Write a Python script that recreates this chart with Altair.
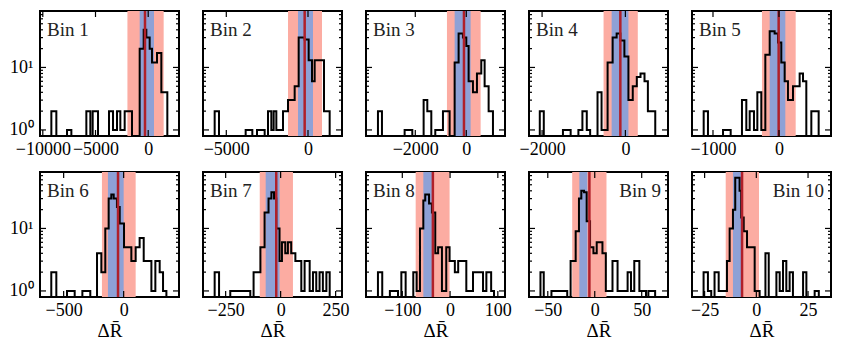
import altair as alt
import pandas as pd

# ---------------- data ----------------
bin_names = [f"Bin {i}" for i in range(1, 11)]

xlims = [(-10266, 2922), (-6426, 2081), (-3933, 1518), (-2314, 1023), (-1318, 788),
         (-697, 461), (-353, 279), (-176, 115), (-70, 78), (-31.1, 36.1)]
xticks = [[-10000, -5000, 0], [-5000, 0], [-2000, 0], [-2000, 0], [-1000, 0],
          [-500, 0], [-250, 0, 250], [-100, 0, 100], [-50, 0, 50], [-25, 0, 25]]

red_lo = [-1971, -1224, -758, -524, -258, -181, -95, -72, -24, -14.8]
red_hi = [1467, 857, 562, 298, 253, 100, 56, -1, 12.5, 1.3]
blue_lo = [-809, -612, -457, -330, -141, -131, -68, -56, -16.4, -11.3]
blue_hi = [550, 306, 170, 73, 96, 0, -5, -38, -7.9, -7.3]
median = [-304, -204, -91, -121, -5, -47, -20, -36, -5.7, -6.9]

edges = [
    [-9189, -8715, -7702, -7291, -5869, -5490, -5268, -4762, -3719, -3339, -2960, -2644,
     -2232, -1537, -809, -430, -177, 139, 360, 835, 1246, 1815],
    [-5712, -5447, -3815, -3407, -3121, -2652, -2448, -2244, -2101, -1938, -1530, -1224,
     -816, -571, -204, 41, 245, 408, 979, 1326],
    [-3464, -3307, -2418, -2117, -1673, -1529, -1372, -1216, -915, -654, -457, -301, -131,
     0, 91, 261, 418, 588, 719, 876, 1046],
    [-2055, -1959, -1499, -1314, -1128, -1032, -927, -846, -669, -572, -427, -306, -210,
     -121, -24, 73, 177, 274, 363, 459, 540, 717],
    [-1141, -1076, -848, -732, -561, -495, -444, -379, -328, -268, -207, -141, -66, -15,
     35, 86, 136, 212, 313, 364, 414, 490, 601],
    [-603, -561, -472, -408, -344, -278, -222, -186, -153, -125, -103, -83, -56, -33, 3,
     64, 100, 133, 167, 231, 264, 300, 328, 356],
    [-300, -280, -229, -138, -123, -92, -73, -55, -42, -30, -20, -5, 6, 21, 33, 48, 67,
     94, 109, 132, 147, 162, 177, 192, 208, 223],
    [-151, -142, -126, -109, -102, -93, -77, -70, -63, -56, -52, -44, -38, -31, -25, -17,
     -8, -1, 10, 17, 34, 48, 69, 76, 86, 92],
    [-57.8, -54.3, -46.1, -29.3, -25.7, -20.3, -16.8, -14.3, -11.4, -8.6, -5.0, -1.4, 2.1,
     4.6, 8.2, 11.8, 18.9, 24.3, 35.0, 38.6, 42.1, 47.5, 54.6, 57.1, 64.3],
    [-25.5, -23.4, -21.8, -20.2, -18.2, -14.2, -12.9, -11.3, -10.2, -8.1, -7.3, -6.1, -4.5,
     -0.8, 1.6, 4.4, 6.0, 9.7, 11.3, 12.9, 14.5, 16.1, 17.7, 22.6, 24.2, 28.2, 30.2],
]
counts = [
    [2, 0, 1, 0, 2, 0, 2, 0, 2, 1, 2, 1, 2, 0, 20, 40, 30, 20, 12, 17, 4],
    [2, 0, 1, 0, 1, 0, 2, 1, 2, 1, 2, 3, 5, 30, 28, 13, 6, 13, 2],
    [2, 0, 1, 0, 3, 2, 0, 1, 2, 0, 12, 35, 30, 22, 6, 4, 8, 13, 5, 2],
    [2, 0, 1, 0, 1, 2, 1, 0, 4, 1, 12, 30, 35, 27, 15, 3, 5, 7, 8, 6, 2],
    [2, 0, 1, 0, 3, 1, 2, 1, 4, 1, 16, 38, 35, 25, 12, 6, 3, 5, 8, 6, 0, 2],
    [2, 0, 1, 0, 1, 0, 4, 2, 10, 30, 35, 30, 22, 12, 5, 3, 5, 7, 3, 1, 3, 2, 1],
    [2, 0, 1, 0, 2, 5, 18, 30, 38, 30, 10, 3, 6, 4, 6, 4, 3, 1, 3, 1, 2, 1, 2, 1, 2],
    [2, 0, 1, 0, 2, 0, 2, 1, 10, 28, 35, 25, 18, 4, 5, 1, 5, 3, 2, 3, 1, 2, 1, 2, 1],
    [2, 0, 1, 0, 3, 9, 30, 40, 38, 13, 5, 4, 6, 6, 4, 1, 3, 1, 2, 1, 3, 1, 0, 1],
    [2, 1, 0, 2, 1, 3, 10, 20, 65, 40, 15, 9, 5, 1, 0, 4, 0, 2, 1, 3, 1, 2, 0, 2, 0, 1],
]

y_major = [1, 10]
y_minor = [2, 3, 4, 5, 6, 7, 8, 9, 20, 30, 40, 50, 60, 70, 80]

# ---------------- styling ----------------
W, H = 139, 125
YDOM = [0.8, 80]
FLOOR = 0.5
FONT = "Liberation Serif"
RED = "#fcaca2"
BLUE = "#8ea1d6"
LINE_RED = "#b0202a"


def step_table(e, c):
    xs, ys = [e[0]], [FLOOR]
    for i, n in enumerate(c):
        v = n if n > 0 else FLOOR
        xs += [e[i], e[i + 1]]
        ys += [v, v]
    xs.append(e[-1])
    ys.append(FLOOR)
    return pd.DataFrame({"x": xs, "y": ys, "o": list(range(len(xs)))})


def panel(i):
    xs = alt.Scale(domain=list(xlims[i]), nice=False, zero=False)
    ys = alt.Scale(type="log", domain=YDOM, clamp=True, nice=False)
    ax_kw = dict(values=xticks[i], format="d", ticks=False, domain=False, grid=False,
                 labelFlush=False, labelOverlap=False)
    if i >= 5:
        ax_kw.update(title="ΔR̄")
    else:
        ax_kw.update(title="")
    xaxis = alt.Axis(**ax_kw)
    left = i % 5 == 0
    yaxis = alt.Axis(values=y_major, ticks=False, domain=False, grid=False, title="",
                     labelExpr="datum.value == 1 ? '10⁰' : '10¹'", labelFlush=False)

    def X(f):
        return alt.X(f, scale=xs, axis=xaxis)

    def Y(f):
        if left:
            return alt.Y(f, scale=ys, axis=yaxis)
        return alt.Y(f, scale=ys, axis=None)

    bands = pd.DataFrame({"rlo": [red_lo[i]], "rhi": [red_hi[i]],
                          "blo": [blue_lo[i]], "bhi": [blue_hi[i]],
                          "m": [median[i]], "name": [bin_names[i]]})

    red = alt.Chart(bands).mark_rect(color=RED).encode(x=X("rlo:Q"), x2="rhi:Q")
    blue = alt.Chart(bands).mark_rect(color=BLUE).encode(x=X("blo:Q"), x2="bhi:Q")
    hist = alt.Chart(step_table(edges[i], counts[i])).mark_line(
        color="black", strokeWidth=2, interpolate="linear", clip=True).encode(
        x=X("x:Q"), y=Y("y:Q"), order="o:Q")
    med = alt.Chart(bands).mark_rule(color=LINE_RED, strokeWidth=2.5).encode(x=X("m:Q"))

    # inward tick marks (matplotlib style)
    xt = pd.DataFrame({"t": [t for t in xticks[i] if xlims[i][0] <= t <= xlims[i][1]]})
    yt_maj = pd.DataFrame({"t": y_major})
    yt_min = pd.DataFrame({"t": [t for t in y_minor if YDOM[0] <= t <= YDOM[1]]})
    tick_kw = dict(color="black", strokeWidth=1.2)
    xb = alt.Chart(xt).mark_rule(**tick_kw).encode(
        x=X("t:Q"), y=alt.value(H), y2=alt.value(H - 6))
    xtp = alt.Chart(xt).mark_rule(**tick_kw).encode(
        x=X("t:Q"), y=alt.value(0), y2=alt.value(6))
    yl = alt.Chart(yt_maj).mark_rule(**tick_kw).encode(
        y=Y("t:Q"), x=alt.value(0), x2=alt.value(6))
    yr = alt.Chart(yt_maj).mark_rule(**tick_kw).encode(
        y=Y("t:Q"), x=alt.value(W), x2=alt.value(W - 6))
    yl2 = alt.Chart(yt_min).mark_rule(**tick_kw).encode(
        y=Y("t:Q"), x=alt.value(0), x2=alt.value(3))
    yr2 = alt.Chart(yt_min).mark_rule(**tick_kw).encode(
        y=Y("t:Q"), x=alt.value(W), x2=alt.value(W - 3))

    right = i in (8, 9)
    label = alt.Chart(bands).mark_text(
        font=FONT, fontSize=19, color="#222222",
        align="right" if right else "left", baseline="alphabetic").encode(
        x=alt.value(W - 7 if right else 7), y=alt.value(25), text="name:N")

    return alt.layer(red, blue, hist, med, xb, xtp, yl, yr, yl2, yr2, label).properties(
        width=W, height=H)


panels = [panel(i) for i in range(10)]
chart = alt.concat(*panels, columns=5, spacing={"row": 36, "column": 24},
                   bounds="flush").properties(
    padding={"left": 0, "top": 0, "right": 2, "bottom": 2}).configure_view(
    stroke="black", strokeWidth=2).configure_axis(
    labelFont=FONT, labelFontSize=18, labelColor="black", labelPadding=4,
    titleFont=FONT, titleFontSize=19, titleFontWeight="normal", titleColor="black",
    titlePadding=2).configure_axisY(labelPadding=7)

chart.save("out.html", embed_options={"renderer": "svg", "actions": False})
